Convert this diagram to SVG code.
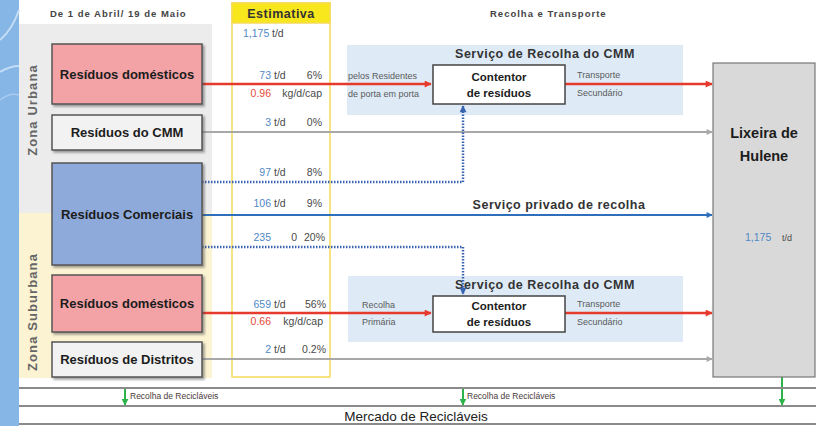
<svg xmlns="http://www.w3.org/2000/svg" width="816" height="426" viewBox="0 0 816 426">
<defs>
<style>
.nb{font-family:"Liberation Sans",Arial,sans-serif;font-weight:bold;font-size:13px;fill:#1c1c1c;text-anchor:middle}
.t{font-family:"Liberation Sans",Arial,sans-serif;font-size:10.5px;fill:#4a4a4a}
.e{text-anchor:end}
.bl{fill:#4F88C6}
.rd{fill:#E5473A}
.sm{font-family:"Liberation Sans",Arial,sans-serif;font-size:9px;fill:#5a5a5a}
.hd{font-family:"Liberation Sans",Arial,sans-serif;font-weight:bold;font-size:9.5px;letter-spacing:1px;fill:#444}
.ttl{font-family:"Liberation Sans",Arial,sans-serif;font-weight:bold;font-size:12.5px;letter-spacing:0.5px;fill:#333;text-anchor:middle}
.zn{font-family:"Liberation Sans",Arial,sans-serif;font-weight:bold;font-size:13px;letter-spacing:1.1px;fill:#666;text-anchor:middle}
.ct{font-family:"Liberation Sans",Arial,sans-serif;font-weight:bold;font-size:11.5px;fill:#1c1c1c;text-anchor:middle}
.rc{font-family:"Liberation Sans",Arial,sans-serif;font-size:8.5px;fill:#4a3a3a}
.box{stroke:#555;stroke-width:1.5}
.red{stroke:#E53A2C;stroke-width:2.5;fill:none}
.gry{stroke:#A8A8A8;stroke-width:2;fill:none}
.blu{stroke:#2F6EBA;stroke-width:1.8;fill:none}
.dot{stroke:#3A64B0;stroke-width:2.5;stroke-dasharray:1.5 1.5;fill:none}
.grn{stroke:#2DB34A;stroke-width:2;fill:none}
.bar{stroke:#8a8a8a;stroke-width:2}
</style>
<filter id="sh" x="-10%" y="-10%" width="130%" height="140%"><feDropShadow dx="2" dy="2" stdDeviation="1.2" flood-color="#444" flood-opacity="0.5"/></filter>
<marker id="mr" viewBox="0 0 10 10" refX="9" refY="5" markerUnits="userSpaceOnUse" markerWidth="9" markerHeight="7" orient="auto"><path d="M0,0L10,5L0,10z" fill="#E53A2C"/></marker>
<marker id="mg" viewBox="0 0 10 10" refX="9" refY="5" markerUnits="userSpaceOnUse" markerWidth="8" markerHeight="6" orient="auto"><path d="M0,0L10,5L0,10z" fill="#A8A8A8"/></marker>
<marker id="mb" viewBox="0 0 10 10" refX="9" refY="5" markerUnits="userSpaceOnUse" markerWidth="8" markerHeight="6" orient="auto"><path d="M0,0L10,5L0,10z" fill="#2F6EBA"/></marker>
<marker id="md" viewBox="0 0 10 10" refX="9" refY="5" markerUnits="userSpaceOnUse" markerWidth="8" markerHeight="7" orient="auto"><path d="M0,0L10,5L0,10z" fill="#3A64B0"/></marker>
<marker id="mn" viewBox="0 0 10 10" refX="9" refY="5" markerUnits="userSpaceOnUse" markerWidth="7" markerHeight="7" orient="auto"><path d="M0,0L10,5L0,10z" fill="#2DB34A"/></marker>
</defs>
<rect width="816" height="426" fill="#fff"/>
<g id="left-strip">
<rect x="0" y="0" width="19" height="426" fill="#86B6E6"/>
<path d="M0,40 Q12,30 19,10" stroke="#c4dcf4" stroke-width="2" fill="none"/>
<path d="M0,72 Q10,66 19,66" stroke="#c4dcf4" stroke-width="2" fill="none"/>
<path d="M0,100 Q10,92 19,95" stroke="#a9cbef" stroke-width="1.5" fill="none"/>
</g>
<g id="zones">
<rect x="19" y="24" width="193" height="189" fill="#ECECEC"/>
<rect x="19" y="213" width="193" height="165" fill="#FCF3D3"/>
<text class="zn" transform="translate(37,110) rotate(-90)">Zona Urbana</text>
<text class="zn" transform="translate(37,312) rotate(-90)">Zona Suburbana</text>
</g>
<g id="headers">
<text class="hd" x="50" y="17">De 1 de Abril/ 19 de Maio</text>
<text class="hd" x="490" y="17">Recolha e Transporte</text>
</g>
<g id="estimativa">
<rect x="232" y="3" width="98" height="374" fill="#fff" stroke="#F6DA5A" stroke-width="1.5"/>
<rect x="232" y="3" width="98" height="20" fill="#F8E71C" stroke="#F6DA5A" stroke-width="1.5"/>
<text x="281" y="18" class="ttl" style="fill:#333">Estimativa</text>
</g>
<g id="servico-urbano">
<rect x="347" y="45" width="336" height="70" fill="#DEEBF7"/>
<text class="ttl" x="545" y="58">Serviço de Recolha do CMM</text>
</g>
<g id="servico-suburbano">
<rect x="348" y="276" width="335" height="66" fill="#DEEBF7"/>
<text class="ttl" x="545" y="289">Serviço de Recolha do CMM</text>
</g>
<g id="connectors">
<path class="red" d="M202,84H431" marker-end="url(#mr)"/>
<path class="red" d="M565,84H712" marker-end="url(#mr)"/>
<path class="gry" d="M202,132H712" marker-end="url(#mg)"/>
<path class="dot" d="M202,182H463V106" marker-end="url(#md)"/>
<path class="blu" d="M202,215H712" marker-end="url(#mb)"/>
<path class="dot" d="M202,247H463V294" marker-end="url(#md)"/>
<path class="red" d="M202,313H431" marker-end="url(#mr)"/>
<path class="red" d="M565,313H712" marker-end="url(#mr)"/>
<path class="gry" d="M202,359H712" marker-end="url(#mg)"/>
<path class="grn" d="M125,389V405" marker-end="url(#mn)"/>
<path class="grn" d="M463,389V405" marker-end="url(#mn)"/>
<path class="grn" d="M782,377V405" marker-end="url(#mn)"/>
</g>
<g id="labels">
<text class="t bl" x="243" y="37">1,175</text><text class="t" x="272" y="37">t/d</text>
<text class="t bl e" x="271" y="79">73</text><text class="t" x="274" y="79">t/d</text><text class="t e" x="322" y="79">6%</text>
<text class="t rd e" x="271" y="97">0.96</text><text class="t e" x="322" y="97">kg/d/cap</text>
<text class="t bl e" x="271" y="126">3</text><text class="t" x="274" y="126">t/d</text><text class="t e" x="322" y="126">0%</text>
<text class="t bl e" x="271" y="176">97</text><text class="t" x="274" y="176">t/d</text><text class="t e" x="322" y="176">8%</text>
<text class="t bl e" x="271" y="207">106</text><text class="t" x="274" y="207">t/d</text><text class="t e" x="322" y="207">9%</text>
<text class="t bl e" x="271" y="241">235</text><text class="t e" x="297" y="241">0</text><text class="t e" x="325" y="241">20%</text>
<text class="t bl e" x="271" y="308">659</text><text class="t" x="274" y="308">t/d</text><text class="t e" x="326" y="308">56%</text>
<text class="t rd e" x="271" y="325">0.66</text><text class="t e" x="323" y="325">kg/d/cap</text>
<text class="t bl e" x="271" y="353">2</text><text class="t" x="274" y="353">t/d</text><text class="t e" x="326" y="353">0.2%</text>
<text class="sm" x="348" y="79">pelos  Residentes</text>
<text class="sm" x="348" y="97">de porta em porta</text>
<text class="sm" x="577" y="78">Transporte</text>
<text class="sm" x="577" y="96">Secundário</text>
<text class="sm" x="362" y="308">Recolha</text>
<text class="sm" x="362" y="325">Primária</text>
<text class="sm" x="577" y="307">Transporte</text>
<text class="sm" x="577" y="325">Secundário</text>
<text class="ttl" x="559" y="209">Serviço privado de recolha</text>
</g>
<g id="n-dom-urb"><rect class="box" x="52" y="44" width="150" height="60" fill="#F3A3A6" filter="url(#sh)"/><text class="nb" x="127" y="79">Resíduos domésticos</text></g>
<g id="n-cmm"><rect class="box" x="52" y="115" width="150" height="35" fill="#F2F2F2" filter="url(#sh)"/><text class="nb" x="127" y="137">Resíduos do CMM</text></g>
<g id="n-com"><rect class="box" x="52" y="163" width="150" height="102" fill="#8EAADB" filter="url(#sh)"/><text class="nb" x="127" y="219">Resíduos Comerciais</text></g>
<g id="n-dom-sub"><rect class="box" x="52" y="275" width="150" height="57" fill="#F3A3A6" filter="url(#sh)"/><text class="nb" x="127" y="308">Resíduos domésticos</text></g>
<g id="n-dist"><rect class="box" x="52" y="342" width="150" height="35" fill="#F2F2F2" filter="url(#sh)"/><text class="nb" x="127" y="364">Resíduos de Distritos</text></g>
<g id="n-cont-urb"><rect x="433" y="65" width="132" height="39" fill="#fff" stroke="#444" stroke-width="1.5"/><text class="ct" x="499" y="81">Contentor</text><text class="ct" x="499" y="97">de resíduos</text></g>
<g id="n-cont-sub"><rect x="433" y="296" width="132" height="36" fill="#fff" stroke="#444" stroke-width="1.5"/><text class="ct" x="499" y="310">Contentor</text><text class="ct" x="499" y="326">de resíduos</text></g>
<g id="n-lixeira">
<rect x="713" y="63" width="102" height="314" fill="#D9D9D9" stroke="#777" stroke-width="1.2"/>
<text class="nb" x="764" y="138" style="font-size:14.5px">Lixeira de</text>
<text class="nb" x="764" y="161" style="font-size:14.5px">Hulene</text>
<text class="t bl" x="745" y="241">1,175</text><text class="t" x="782" y="241" style="font-size:9px">t/d</text>
</g>
<g id="mercado">
<line class="bar" x1="19" y1="388" x2="816" y2="388"/>
<line class="bar" x1="19" y1="406" x2="816" y2="406"/>
<line class="bar" x1="19" y1="424" x2="816" y2="424"/>
<text class="rc" x="130" y="399">Recolha de Recicláveis</text>
<text class="rc" x="467" y="399">Recolha de Recicláveis</text>
<text x="416" y="421" style="font-family:'Liberation Sans',Arial,sans-serif;font-size:13.5px;fill:#222;text-anchor:middle">Mercado de Recicláveis</text>
</g>
</svg>
